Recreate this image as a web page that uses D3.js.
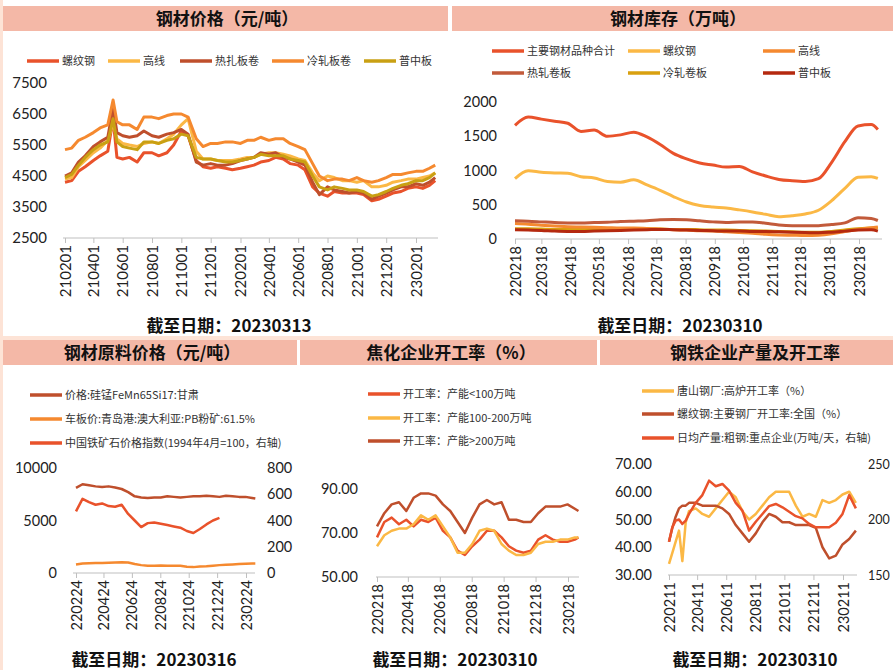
<!DOCTYPE html>
<html>
<head>
<meta charset="utf-8">
<script src="https://cdn.jsdelivr.net/npm/d3@7"></script>
<style>
body { margin: 0; background: #fff; }
svg { display: block; font-family: "Noto Sans CJK SC", "Noto Sans", sans-serif; }
</style>
</head>
<body>
<svg id="chart"></svg>
<script>
var W = 893, H = 670;
var parse = d3.timeParse("%Y-%m-%d");
var fmtDate = d3.timeFormat("%y%m%d");
var NUMFONT = "Lato, 'Noto Sans', sans-serif";

// colours
var RED = "#e9522b", YEL = "#fbb845", BRN = "#bf4f2c", ORG = "#f5892f",
    OLV = "#c9a013", DRK = "#b5290f", BAR = "#f4b8a7", PEACH = "#fde3d6";

// ---- 钢材价格（元/吨） ----
var priceDates = ["2021-02-01","2021-02-15","2021-03-01","2021-03-15","2021-04-01","2021-04-15","2021-05-01","2021-05-12","2021-05-20","2021-06-01",
  "2021-06-15","2021-07-01","2021-07-15","2021-08-01","2021-08-15","2021-09-01","2021-09-15","2021-10-01","2021-10-15","2021-11-01",
  "2021-11-15","2021-12-01","2021-12-15","2022-01-01","2022-01-15","2022-02-01","2022-02-15","2022-03-01","2022-03-15","2022-04-01",
  "2022-04-15","2022-05-01","2022-05-15","2022-06-01","2022-06-15","2022-07-01","2022-07-15","2022-08-01","2022-08-15","2022-09-01",
  "2022-09-15","2022-10-01","2022-10-15","2022-11-01","2022-11-15","2022-12-01","2022-12-15","2023-01-01","2023-01-15","2023-02-01",
  "2023-02-15","2023-03-01","2023-03-13"];
var priceRebar = [4300,4350,4650,4800,5000,5150,5300,6350,5100,5050, 5100,4950,5250,5250,5150,5250,5500,5950,5800,5000,
  4800,4750,4800,4750,4700,4750,4800,4850,4950,5000, 5100,5050,4900,4850,4700,4150,3950,3850,4000,3950,
  3950,3950,3900,3700,3750,3850,3950,4000,4100,4150, 4100,4200,4350];
var priceWire = [4400,4450,4800,5000,5250,5400,5650,6200,5700,5550, 5500,5450,5550,5600,5550,5700,5850,6150,6350,5300,
  5050,5050,5000,5000,5000,5050,5100,5100,5200,5250, 5250,5200,5150,5050,5000,4600,4350,4500,4450,4350,
  4350,4300,4350,4150,4150,4200,4300,4350,4400,4400, 4450,4500,4600];
var priceHrc = [4500,4600,4950,5150,5450,5600,5750,6700,5900,5800, 5750,5800,5950,5800,5750,5850,5900,6000,5850,4950,
  4850,4900,4850,4850,4900,5000,5050,5100,5250,5200, 5250,5100,5050,4950,4850,4300,3900,4150,4050,4000,
  3950,4000,3950,3750,3850,3950,4050,4150,4150,4250, 4200,4300,4450];
var priceCrc = [5350,5400,5650,5750,5900,6050,6150,6950,6250,6150, 6150,6000,6400,6400,6350,6450,6500,6500,6400,5700,
  5450,5550,5550,5600,5600,5550,5650,5650,5750,5650, 5700,5700,5550,5450,5350,4900,4500,4350,4400,4400,
  4350,4450,4350,4300,4350,4450,4550,4550,4600,4650, 4650,4750,4850];
var pricePlate = [4450,4550,4850,5100,5350,5500,5600,6350,5600,5450, 5400,5350,5600,5600,5550,5650,5700,5850,5800,5100,
  5050,5050,5000,4950,4950,5000,5050,5100,5200,5150, 5150,5150,5050,5000,4950,4500,4150,4050,4150,4100,
  4050,4050,4000,3850,3900,4000,4100,4200,4250,4350, 4350,4450,4600];

// ---- 钢材库存（万吨） ----
var stockDates = ["2022-02-18","2022-03-04","2022-03-18","2022-04-01","2022-04-15","2022-04-29","2022-05-13","2022-05-27","2022-06-10","2022-06-24",
  "2022-07-08","2022-07-22","2022-08-05","2022-08-19","2022-09-02","2022-09-16","2022-09-30","2022-10-14","2022-10-28","2022-11-11",
  "2022-11-25","2022-12-09","2022-12-23","2023-01-06","2023-01-20","2023-02-03","2023-02-17","2023-03-03","2023-03-10"];
var stockTotal = [1660,1780,1750,1720,1690,1570,1590,1500,1520,1560,1490,1380,1250,1170,1110,1080,1050,1060,980,920,870,850,840,880,1120,1420,1650,1670,1600];
var stockRebar = [880,995,975,965,960,910,890,840,830,865,790,710,620,540,490,467,452,425,395,360,325,340,365,420,560,740,900,910,885];
var stockWire  = [225,215,200,190,180,175,170,165,160,160,155,145,135,130,120,115,105,95,85,70,60,55,50,55,75,110,140,165,175];
var stockHrc   = [265,260,250,240,235,235,240,245,255,260,265,280,285,280,265,250,240,250,250,230,205,195,195,195,210,235,310,300,270];
var stockCrc   = [150,150,145,140,140,140,140,145,150,150,150,145,140,140,135,130,130,125,120,115,110,105,100,100,110,130,150,160,160];
var stockPlate = [135,130,125,115,110,110,115,120,125,130,135,140,135,130,125,120,115,115,110,110,105,100,95,90,100,115,130,135,115];

// ---- 钢材原料价格（元/吨） ----
var rawDates = ["2022-02-24","2022-03-10","2022-03-24","2022-04-07","2022-04-21","2022-05-05","2022-05-19","2022-06-02","2022-06-16","2022-06-30",
  "2022-07-14","2022-07-28","2022-08-11","2022-08-25","2022-09-08","2022-09-22","2022-10-06","2022-10-20","2022-11-03","2022-11-17",
  "2022-12-01","2022-12-15","2022-12-29","2023-01-12","2023-01-26","2023-02-09","2023-02-23","2023-03-09","2023-03-16"];
var rawSiMn  = [8100,8450,8350,8250,8200,8250,8150,8000,7700,7300,7200,7150,7200,7200,7300,7250,7200,7250,7300,7300,7350,7300,7250,7350,7300,7250,7250,7150,7100];
var rawPB    = [800,900,920,950,950,980,1000,1020,1000,850,750,700,700,720,700,680,700,600,560,620,650,700,750,780,820,850,880,900,900];
var rawIndex = [470,565,540,520,530,510,505,520,450,400,350,380,385,375,365,355,345,320,305,335,370,400,420,null,null,null,null,null,null];

// ---- 焦化企业开工率（%） ----
var cokeDates = stockDates;
var cokeSmall = [68,75,77,74,76,73,76,75,77,71,68,62,60,64,67,71,71,68,64,62,61,62,67,69,67,66,66,67,68];
var cokeMid   = [64,69,71,72,72,74,78,76,78,73,68,61,61,65,71,72,71,65,62,60,60,61,65,66,66,67,67,68,68];
var cokeLarge = [73,79,83,84,80,86,88,88,87,83,80,75,70,77,83,85,83,84,76,76,75,75,79,82,82,82,83,81,80];

// ---- 钢铁企业产量及开工率 ----
var millDates = ["2022-02-11","2022-02-18","2022-02-25","2022-03-04","2022-03-11","2022-03-18","2022-03-25","2022-04-08","2022-04-22","2022-05-06",
  "2022-05-20","2022-06-03","2022-06-17","2022-07-01","2022-07-15","2022-07-29","2022-08-12","2022-08-26","2022-09-09","2022-09-23",
  "2022-10-07","2022-10-21","2022-11-04","2022-11-18","2022-12-02","2022-12-16","2022-12-30","2023-01-13","2023-01-27","2023-02-10",
  "2023-02-24","2023-03-10"];
var millTangshan = [34,38,42,46,35,49,53,54,52,51,54,57,60,58,53,50,52,55,58,60,60,60,55,51,52,51,57,56,57,59,60,56];
var millRebar    = [42,47,51,54,55,55,56,56,55,55,55,54,52,48,45,42,45,49,52,51,49,49,48,48,48,47,40,36,37,41,43,46];
var millOutput   = [180,193,199,200,196,199,205,215,222,235,230,232,226,215,208,190,198,205,212,214,211,207,203,201,196,193,193,193,197,205,222,210];

var svg = d3.select("#chart").attr("width", W).attr("height", H);
svg.append("rect").attr("width", W).attr("height", H).attr("fill", "#fff");
svg.append("rect").attr("x", 0).attr("y", 0).attr("width", 3).attr("height", H).attr("fill", PEACH);
svg.append("rect").attr("x", 0).attr("y", 336).attr("width", W).attr("height", 4).attr("fill", PEACH);

function panel(o) {
  var g = svg.append("g");
  g.append("rect").attr("x", o.bar[0]).attr("y", o.bar[1]).attr("width", o.bar[2]).attr("height", o.bar[3]).attr("fill", BAR);
  g.append("text").attr("x", o.titleX).attr("y", o.bar[1] + o.bar[3] / 2).attr("dy", "0.36em")
    .attr("text-anchor", "middle").attr("font-size", 17).attr("font-weight", "bold").attr("fill", "#111")
    .text(o.title);

  // legend
  var lg = g.selectAll(".lg").data(o.series).enter().append("g")
    .attr("transform", function (d, i) { return "translate(" + o.legendPos[i] + ")"; });
  lg.append("line").attr("x1", 0).attr("x2", 32)
    .attr("stroke", function (d) { return d.color; }).attr("stroke-width", 3.5);
  lg.append("text").attr("x", 35).attr("dy", "0.35em").attr("font-size", 11).attr("fill", "#333")
    .text(function (d) { return d.name; });

  var x = d3.scaleTime().domain(o.xDomain.map(parse)).range(o.xRange);
  var dates = o.dates.map(parse);
  var base = o.yL.range()[0];

  // x axis
  var start = parse(o.xDomain[0]);
  var tv = d3.range(o.nTicks).map(function (i) { return d3.timeMonth.offset(start, i * o.step); });
  var xa = g.append("g").attr("transform", "translate(0," + base + ")")
    .call(d3.axisBottom(x).tickValues(tv).tickFormat(fmtDate).tickSize(5));
  xa.select(".domain").remove();
  xa.append("line").attr("x1", o.axisX[0]).attr("x2", o.axisX[1]).attr("stroke", "#bfbfbf");
  xa.selectAll(".tick line").attr("stroke", "#bfbfbf");
  xa.attr("font-family", NUMFONT).attr("font-size", o.fs);
  xa.selectAll(".tick text").attr("transform", "rotate(-90)").attr("text-anchor", "end")
    .attr("x", -7).attr("y", 0).attr("dy", "0.35em").attr("fill", "#222");

  // y axes
  var ya = g.append("g").attr("transform", "translate(" + o.yLx + ",0)")
    .call(d3.axisLeft(o.yL).tickValues(o.yLticks).tickFormat(o.yLfmt).tickSize(0).tickPadding(0));
  ya.select(".domain").remove();
  ya.attr("font-family", NUMFONT).attr("font-size", o.fs);
  ya.selectAll("text").attr("fill", "#222");
  if (o.yR) {
    var yr = g.append("g").attr("transform", "translate(" + o.yRx + ",0)")
      .call(d3.axisRight(o.yR).tickValues(o.yRticks).tickFormat(d3.format("d")).tickSize(0).tickPadding(0));
    yr.select(".domain").remove();
    yr.attr("font-family", NUMFONT).attr("font-size", o.fsR || o.fs);
    yr.selectAll("text").attr("fill", "#222");
  }

  // lines
  o.draw.forEach(function (k) {
    var s = o.series[k];
    var sc = s.right ? o.yR : o.yL;
    var line = d3.line()
      .defined(function (d) { return d != null; })
      .x(function (d, i) { return x(dates[i]); })
      .y(function (d) { return sc(d); })
      .curve(o.curve || d3.curveLinear);
    g.append("path").attr("d", line(s.values)).attr("fill", "none")
      .attr("stroke", s.color).attr("stroke-width", o.sw).attr("stroke-linejoin", "round");
  });

  g.append("text").attr("x", o.footer[0]).attr("y", o.footer[1]).attr("text-anchor", "middle")
    .attr("font-size", 17).attr("font-weight", "bold").attr("fill", "#111").text(o.footerText);
}

panel({
  bar: [3, 6, 445, 25], titleX: 227, title: "钢材价格（元/吨）",
  series: [
    { name: "螺纹钢", color: RED, values: priceRebar },
    { name: "高线", color: YEL, values: priceWire },
    { name: "热扎板卷", color: BRN, values: priceHrc },
    { name: "冷轧板卷", color: ORG, values: priceCrc },
    { name: "普中板", color: OLV, values: pricePlate }
  ],
  draw: [0, 1, 2, 3, 4],
  legendPos: [[27, 61], [108, 61], [180, 61], [272, 61], [364, 61]],
  dates: priceDates, xDomain: ["2021-02-01", "2023-02-01"], xRange: [65, 416],
  nTicks: 13, step: 2, axisX: [63, 438],
  yL: d3.scaleLinear().domain([2500, 7500]).range([238, 83]),
  yLticks: d3.range(2500, 7501, 1000), yLfmt: d3.format("d"), yLx: 47,
  fs: 15, sw: 3,
  footer: [229, 332], footerText: "截至日期：20230313"
});

panel({
  bar: [452, 6, 441, 25], titleX: 678, title: "钢材库存（万吨）",
  series: [
    { name: "主要钢材品种合计", color: RED, values: stockTotal },
    { name: "螺纹钢", color: YEL, values: stockRebar },
    { name: "高线", color: ORG, values: stockWire },
    { name: "热轧卷板", color: "#c25a3a", values: stockHrc },
    { name: "冷轧卷板", color: "#d9a00f", values: stockCrc },
    { name: "普中板", color: DRK, values: stockPlate }
  ],
  draw: [0, 1, 4, 2, 3, 5],
  legendPos: [[492, 51], [628, 51], [763, 51], [492, 73], [628, 73], [763, 73]],
  dates: stockDates, xDomain: ["2022-02-18", "2023-02-18"], xRange: [515, 859],
  nTicks: 13, step: 1, axisX: [515, 882], curve: d3.curveMonotoneX,
  yL: d3.scaleLinear().domain([0, 2000]).range([239, 102]),
  yLticks: d3.range(0, 2001, 500), yLfmt: d3.format("d"), yLx: 497,
  fs: 14.5, sw: 3,
  footer: [680, 332], footerText: "截至日期：20230310"
});

panel({
  bar: [3, 340, 294, 25], titleX: 152, title: "钢材原料价格（元/吨）",
  series: [
    { name: "价格:硅锰FeMn65Si17:甘肃", color: BRN, values: rawSiMn },
    { name: "车板价:青岛港:澳大利亚:PB粉矿:61.5%", color: ORG, values: rawPB },
    { name: "中国铁矿石价格指数(1994年4月=100，右轴)", color: RED, values: rawIndex, right: true }
  ],
  draw: [1, 0, 2],
  legendPos: [[30, 395], [30, 419], [30, 443]],
  dates: rawDates, xDomain: ["2022-02-24", "2023-02-24"], xRange: [76, 246],
  nTicks: 7, step: 2, axisX: [73, 255],
  yL: d3.scaleLinear().domain([0, 10000]).range([573, 468]),
  yLticks: [0, 5000, 10000], yLfmt: d3.format("d"), yLx: 57,
  yR: d3.scaleLinear().domain([0, 800]).range([573, 468]),
  yRticks: d3.range(0, 801, 200), yRx: 267,
  fs: 14.5, sw: 2.5,
  footer: [154, 666], footerText: "截至日期：20230316"
});

panel({
  bar: [300, 340, 297, 25], titleX: 451, title: "焦化企业开工率（%）",
  series: [
    { name: "开工率：产能<100万吨", color: RED, values: cokeSmall },
    { name: "开工率：产能100-200万吨", color: YEL, values: cokeMid },
    { name: "开工率：产能>200万吨", color: BRN, values: cokeLarge }
  ],
  draw: [2, 0, 1],
  legendPos: [[368, 394], [368, 418], [368, 441]],
  dates: cokeDates, xDomain: ["2022-02-18", "2023-02-18"], xRange: [377, 568],
  nTicks: 7, step: 2, axisX: [376, 579],
  yL: d3.scaleLinear().domain([50, 90]).range([577, 489]),
  yLticks: [50, 70, 90], yLfmt: d3.format(".2f"), yLx: 358,
  fs: 14.5, sw: 2.5,
  footer: [455, 666], footerText: "截至日期：20230310"
});

panel({
  bar: [600, 340, 293, 25], titleX: 755, title: "钢铁企业产量及开工率",
  series: [
    { name: "唐山钢厂:高炉开工率（%）", color: YEL, values: millTangshan },
    { name: "螺纹钢:主要钢厂开工率:全国（%）", color: BRN, values: millRebar },
    { name: "日均产量:粗钢:重点企业(万吨/天，右轴)", color: RED, values: millOutput, right: true }
  ],
  draw: [0, 1, 2],
  legendPos: [[642, 391], [642, 414], [642, 438]],
  dates: millDates, xDomain: ["2022-02-11", "2023-02-11"], xRange: [669, 843],
  nTicks: 7, step: 2, axisX: [668, 857],
  yL: d3.scaleLinear().domain([30, 70]).range([575, 464]),
  yLticks: d3.range(30, 71, 10), yLfmt: d3.format(".2f"), yLx: 652,
  yR: d3.scaleLinear().domain([150, 250]).range([575, 464]),
  yRticks: [150, 200, 250], yRx: 868, fsR: 12.5,
  fs: 14.5, sw: 2.5,
  footer: [755, 666], footerText: "截至日期：20230310"
});
</script>
</body>
</html>
